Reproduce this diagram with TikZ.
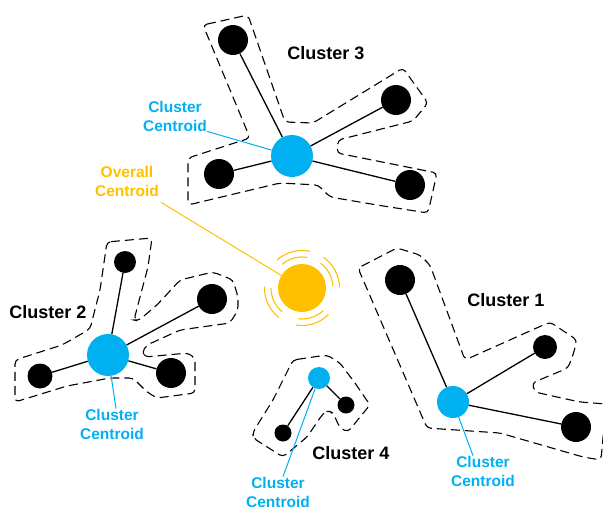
\documentclass[tikz,border=0pt]{standalone}
\usepackage{fontspec}
\setmainfont{Liberation Sans}
\definecolor{cblue}{HTML}{00B0F0}
\definecolor{cyel}{HTML}{FFC000}

\begin{document}
\begin{tikzpicture}[x=1pt,y=-1pt,
  pt/.style={circle,fill=black,inner sep=0pt,minimum size=#1},
  pt/.default=30pt,
  cen/.style={circle,fill=cblue,inner sep=0pt,minimum size=#1},
  link/.style={line width=1.3pt},
  hull/.style={dash pattern=on 9pt off 5pt,line width=1.1pt,rounded corners=4pt},
  ttl/.style={font=\fontsize{18}{21}\selectfont\bfseries,inner sep=0pt},
  clab/.style={font=\fontsize{15.5}{19}\selectfont\bfseries,text=cblue,align=center,inner sep=0pt},
  lead/.style={cblue,line width=1pt},
  ring/.style={cyel,line width=1.1pt},
]
\clip (0,0) rectangle (603,512);

% ---------- Cluster 3 ----------
\draw[hull] (203,25) -- (248,15) -- (285,122) -- (313,123) -- (403,68) -- (428,103)
  -- (413,121) -- (338,140) -- (337,153) -- (437,173) -- (428,213) -- (377,205)
  -- (330,197) -- (318,185) -- (280,183) -- (188,205) -- (188,158) -- (250,138) -- cycle;
\node[cen=42pt] (c3) at (292,156) {};
\node[pt] (c3a) at (233,40) {};
\node[pt] (c3b) at (396,100) {};
\node[pt] (c3c) at (219,174) {};
\node[pt] (c3d) at (410,185) {};
\foreach \n in {c3a,c3b,c3c,c3d} \draw[link] (c3) -- (\n);
\node[ttl] (t3) at (326,53) {Cluster 3};
\node[clab] (l3) at (175,116) {Cluster\\Centroid};
\draw[lead] (l3.south east) -- (c3);

% ---------- Cluster 2 ----------
\draw[hull] (107,242) -- (152,238) -- (148,267) -- (140,297) -- (134,320) -- (138,321)
  -- (157,305) -- (180,280) -- (213,272) -- (233,280) -- (238,297) -- (238,310)
  -- (230,323) -- (180,330) -- (147,345) -- (142,352) -- (145,357) -- (188,353)
  -- (195,358) -- (195,393) -- (157,398) -- (147,392) -- (133,378) -- (110,378)
  -- (67,386) -- (15,402) -- (15,360) -- (62,345) -- (90,329) -- (100,290) -- cycle;
\node[cen=42pt] (c2) at (108,355) {};
\node[pt=22pt] (c2a) at (125,262) {};
\node[pt] (c2b) at (212,299) {};
\node[pt=25pt] (c2c) at (40,376) {};
\node[pt] (c2d) at (171,373) {};
\foreach \n in {c2a,c2b,c2c,c2d} \draw[link] (c2) -- (\n);
\node[ttl] (t2) at (48,312) {Cluster 2};
\node[clab] (l2) at (112,424) {Cluster\\Centroid};
\draw[lead] ([xshift=4pt]l2.north) -- (c2);

% ---------- Cluster 4 ----------
\draw[hull] (293,360) -- (327,355) -- (340,363) -- (355,383) -- (370,405) -- (360,417)
  -- (348,432) -- (340,428) -- (333,413) -- (327,410) -- (322,415) -- (307,437)
  -- (283,457) -- (253,438) -- (253,432) -- (273,400) -- cycle;
\node[cen=22pt] (c4) at (319,378) {};
\node[pt=17pt] (c4a) at (346,405) {};
\node[pt=17pt] (c4b) at (283,433) {};
\foreach \n in {c4a,c4b} \draw[link] (c4) -- (\n);
\node[ttl] (t4) at (351,453) {Cluster 4};
\node[clab] (l4) at (278,492) {Cluster\\Centroid};
\draw[lead] ([xshift=5pt]l4.north) -- (c4);

% ---------- Cluster 1 ----------
\draw[hull] (358,268) -- (397,248) -- (420,255) -- (430,265) -- (465,360) -- (550,322)
  -- (577,340) -- (573,355) -- (568,368) -- (532,383) -- (535,392) -- (557,397)
  -- (580,402) -- (606,404) -- (601,460) -- (583,457) -- (500,433) -- (427,428) -- cycle;
\node[cen=32pt] (c1) at (453,402) {};
\node[pt] (c1a) at (400,280) {};
\node[pt=24pt] (c1b) at (545,347) {};
\node[pt] (c1c) at (576,427) {};
\foreach \n in {c1a,c1b,c1c} \draw[link] (c1) -- (\n);
\node[ttl] (t1) at (506,300) {Cluster 1};
\node[clab] (l1) at (483,471) {Cluster\\Centroid};
\draw[lead] ([xshift=-10pt]l1.north) -- (c1);

% ---------- Overall centroid ----------
\node[circle,fill=cyel,inner sep=0pt,minimum size=48pt] (oc) at (302,288) {};
\foreach \a in {105,28,-72,205} {
  \draw[ring] ([shift={(-\a-25:31)}]oc.center) arc[start angle=-\a-25,end angle=-\a+25,radius=31];
  \draw[ring] ([shift={(-\a-27:37.5)}]oc.center) arc[start angle=-\a-27,end angle=-\a+27,radius=37.5];
}
\node[clab,text=cyel] (ol) at (127,181) {Overall\\Centroid};
\draw[cyel,line width=1pt] ([xshift=2pt,yshift=-6pt]ol.south east) -- (oc);
\end{tikzpicture}
\end{document}
